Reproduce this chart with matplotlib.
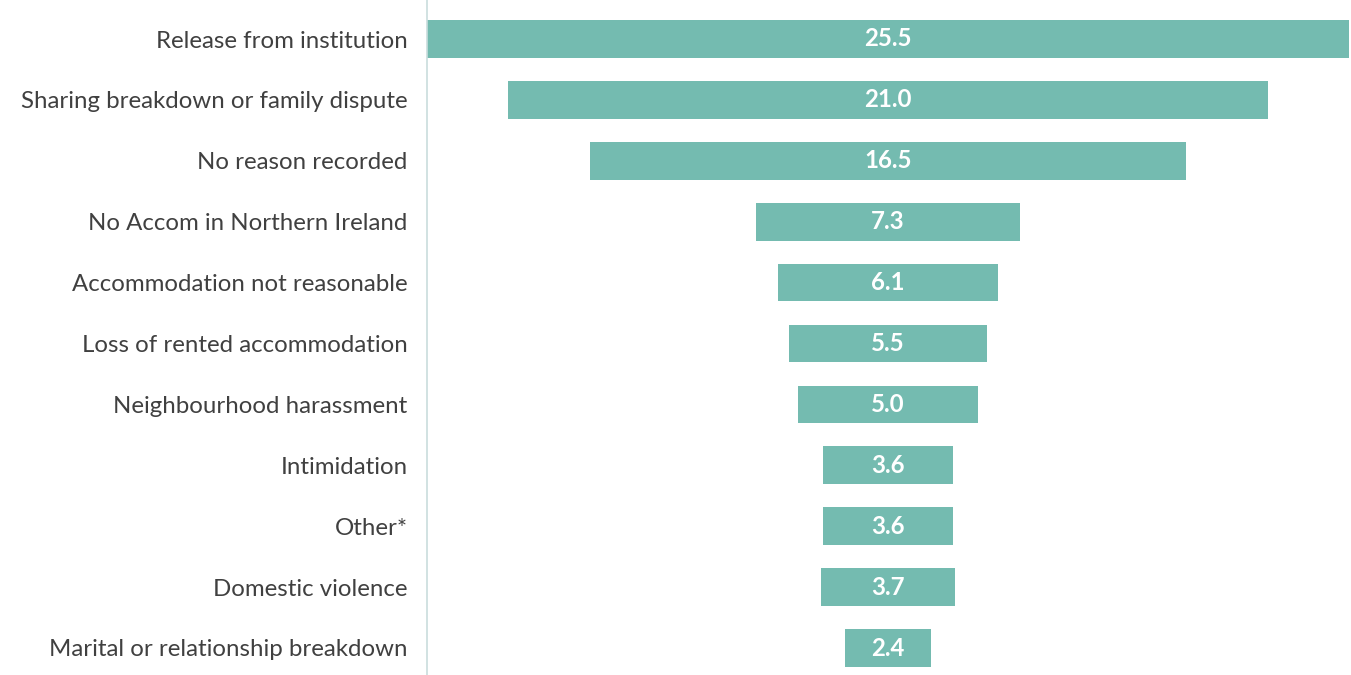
import matplotlib.pyplot as plt

plt.rcParams["font.family"] = ["Lato", "DejaVu Sans"]

reasons = [
    "Release from institution",
    "Sharing breakdown or family dispute",
    "No reason recorded",
    "No Accom in Northern Ireland",
    "Accommodation not reasonable",
    "Loss of rented accommodation",
    "Neighbourhood harassment",
    "Intimidation",
    "Other*",
    "Domestic violence",
    "Marital or relationship breakdown",
]
percent = [25.5, 21.0, 16.5, 7.3, 6.1, 5.5, 5.0, 3.6, 3.6, 3.7, 2.4]

fig = plt.figure(figsize=(13.51, 6.75), dpi=100)
ax = fig.add_axes([427 / 1351, 0, 922 / 1351, 1])

ypos = list(range(len(reasons)))
lefts = [-v / 2 for v in percent]
ax.barh(ypos, percent, left=lefts, height=0.62, color="#74bbb0")

for y, v in zip(ypos, percent):
    ax.text(0, y, f"{v:.1f}", ha="center", va="center", color="white",
            fontsize=17.3, fontweight="bold")

ax.set_xlim(-12.75, 12.75)
row = 60.9
ax.set_ylim(10 + 27 / row, -39 / row)
ax.set_yticks(ypos)
ax.set_yticklabels(reasons, fontsize=17.3, color="#404040")
ax.tick_params(axis="y", length=0, pad=14)
ax.set_xticks([])
for s in ["top", "right", "bottom"]:
    ax.spines[s].set_visible(False)
ax.spines["left"].set_color("#c9dddd")
ax.spines["left"].set_linewidth(1.2)

fig.savefig("out.png", dpi=100)
